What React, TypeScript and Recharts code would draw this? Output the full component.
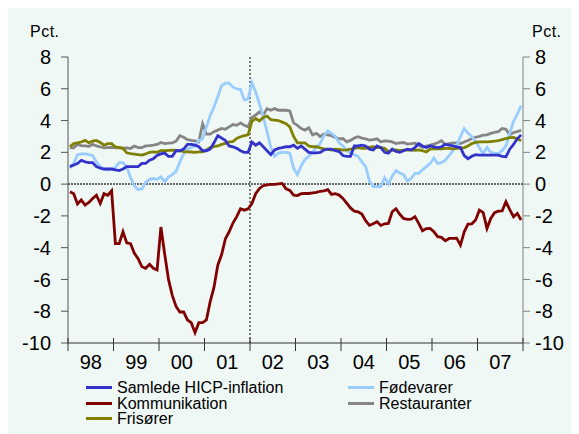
import { LineChart, Line, XAxis, YAxis, ReferenceLine } from "recharts";

// Årlig stigning i pct., månedlige tal jan 1998 - dec 2007
const yearLabels = ["98", "99", "00", "01", "02", "03", "04", "05", "06", "07"];
const yTicks = [-10, -8, -6, -4, -2, 0, 2, 4, 6, 8];

const samlede = [
  1.1, 1.2, 1.3, 1.5, 1.4, 1.35, 1.35, 1.1, 1.0, 0.95, 0.95, 0.95,
  0.9, 0.85, 0.95, 1.1, 1.1, 1.1, 1.1, 1.3, 1.3, 1.5, 1.6, 1.8,
  1.9, 1.95, 1.75, 1.75, 2.1, 2.1, 2.2, 2.5, 2.5, 2.45, 2.35, 2.1,
  2.1, 2.2, 2.6, 3.05, 2.9, 2.75, 2.4, 2.35, 2.25, 2.1, 2.0, 2.0,
  2.65, 2.45, 2.6, 2.35, 2.1, 1.85, 2.15, 2.25, 2.3, 2.35, 2.35, 2.45,
  2.25, 2.4, 2.2, 2.0, 1.97, 1.97, 2.0, 2.15, 2.2, 2.2, 2.1, 2.05,
  1.8, 1.75, 1.75, 2.4, 2.4, 2.45, 2.4, 2.2, 2.15, 2.4, 2.3, 2.0,
  1.95, 2.2, 2.05, 2.0, 2.1, 2.2, 2.15, 2.3, 2.55, 2.4, 2.3, 2.4,
  2.35, 2.3, 2.35, 2.5, 2.45, 2.4, 2.35, 2.3, 1.8, 1.6, 1.75, 1.85,
  1.82, 1.82, 1.82, 1.82, 1.82, 1.82, 1.75, 1.72, 2.2, 2.5, 2.85, 3.1,
];

const fodevarer = [
  1.0, 1.3, 1.85, 1.9, 1.9, 1.85, 1.8, 1.4, 1.1, 0.95, 0.88, 0.95,
  1.05, 1.35, 1.35, 1.1, 0.4, -0.1, -0.35, -0.3, 0.1, 0.3, 0.35, 0.3,
  0.45, 0.15, 0.45, 0.6, 0.8, 1.4, 1.9, 2.2, 2.3, 2.4, 2.75, 2.85,
  3.6, 4.3, 4.85, 5.5, 6.2, 6.35, 6.35, 6.1, 6.0, 5.95, 5.3, 5.35,
  6.4, 5.8, 5.05, 4.2, 3.3, 2.3, 1.75, 1.95, 2.0, 2.0, 1.95, 1.0,
  0.6, 1.15, 1.55, 1.75, 2.0, 2.3, 2.55, 3.05, 3.35, 3.2, 3.0, 2.6,
  2.4, 2.1, 1.95, 1.85, 1.75, 1.4, 1.1, 0.2, -0.15, -0.15, -0.15, 0.4,
  0.0, 0.5, 0.85, 0.7, 0.6, 0.2, 0.35, 0.67, 0.68, 0.9, 1.1, 1.3,
  1.65, 1.3, 1.35, 1.5, 1.8, 2.1, 2.4, 3.0, 3.5, 3.2, 3.0, 2.7,
  2.3, 1.9, 2.3, 2.0, 1.95, 1.93, 2.1, 2.4, 3.2, 3.95, 4.4, 4.95,
];

const kommunikation = [
  -0.48, -0.6, -1.25, -1.0, -1.32, -1.15, -0.9, -0.7, -1.22, -0.6, -0.7, -0.42,
  -3.75, -3.75, -3.0, -3.7, -3.75, -4.35, -4.7, -5.2, -5.3, -5.05, -5.3, -5.4,
  -2.7, -4.4, -6.0, -7.0, -7.7, -8.05, -8.05, -8.55, -8.72, -9.35, -8.72, -8.72,
  -8.55, -7.4, -6.5, -5.1, -4.45, -3.45, -3.0, -2.45, -2.05, -1.55, -1.64, -1.55,
  -1.22, -0.6, -0.27, -0.1, -0.05, -0.02, -0.02, 0.02, 0.04, -0.3, -0.4, -0.69,
  -0.72, -0.6, -0.59, -0.59, -0.55, -0.52, -0.45, -0.42, -0.35, -0.65, -0.6, -0.69,
  -0.9, -1.2, -1.5, -1.7, -1.75, -1.89, -2.3, -2.6, -2.5, -2.37, -2.6, -2.5,
  -2.47, -1.74, -1.55, -1.9, -2.16, -2.22, -2.2, -2.05, -2.47, -2.94, -2.8, -2.79,
  -3.0, -3.31, -3.35, -3.56, -3.42, -3.42, -3.4, -3.84, -3.0, -2.52, -2.5, -2.26,
  -1.64, -1.8, -2.79, -2.16, -1.8, -1.7, -1.68, -1.11, -1.6, -2.05, -1.84, -2.26,
];

const restauranter = [
  2.3, 2.28, 2.5, 2.42, 2.4, 2.38, 2.5, 2.4, 2.35, 2.28, 2.3, 2.32,
  2.28, 2.3, 2.26, 2.28, 2.24, 2.4, 2.3, 2.3, 2.4, 2.42, 2.45, 2.5,
  2.62, 2.55, 2.58, 2.6, 2.7, 3.05, 2.95, 2.8, 2.75, 2.72, 2.66, 3.8,
  3.15, 3.15, 3.3, 3.4, 3.5, 3.45, 3.6, 3.75, 3.7, 3.85, 3.7, 3.6,
  4.2, 4.35, 4.55, 4.35, 4.75, 4.65, 4.75, 4.65, 4.65, 4.65, 4.6, 3.85,
  3.7, 3.5, 3.4, 3.55, 3.1, 3.2, 3.0, 3.15, 3.1, 3.05, 2.94, 2.85,
  2.87, 2.66, 2.75, 2.9, 2.98, 2.9, 2.85, 2.77, 2.8, 2.85, 2.66, 2.72,
  2.7, 2.66, 2.56, 2.6, 2.62, 2.52, 2.55, 2.58, 2.45, 2.31, 2.4, 2.45,
  2.52, 2.6, 2.73, 2.5, 2.55, 2.6, 2.6, 2.56, 2.65, 2.75, 2.87, 2.95,
  3.0, 3.08, 3.1, 3.19, 3.25, 3.3, 3.5, 3.45, 3.1, 3.25, 3.3, 3.4,
];

const frisorer = [
  2.35, 2.55, 2.6, 2.65, 2.75, 2.6, 2.7, 2.75, 2.62, 2.45, 2.55, 2.55,
  2.35, 2.3, 2.25, 1.97, 1.92, 1.89, 1.85, 1.82, 1.9, 2.0, 2.03, 2.0,
  2.1, 2.1, 2.12, 2.14, 2.12, 2.1, 2.05, 2.03, 2.02, 2.0, 2.03, 2.03,
  2.15, 2.3, 2.36, 2.4, 2.5, 2.56, 2.66, 2.68, 2.87, 2.98, 3.05, 3.1,
  3.95, 4.13, 3.98, 4.2, 4.28, 4.05, 4.03, 4.0, 3.9, 3.8, 3.6, 3.0,
  2.6, 2.6, 2.6, 2.4, 2.35, 2.35, 2.28, 2.22, 2.18, 2.14, 2.2, 2.18,
  2.14, 2.16, 2.2, 2.25, 2.29, 2.25, 2.25, 2.33, 2.35, 2.3, 2.3, 2.25,
  2.05, 2.12, 2.15, 2.1, 2.14, 2.15, 2.14, 2.12, 2.15, 2.1, 2.03, 2.2,
  2.22, 2.22, 2.22, 2.25, 2.25, 2.22, 2.25, 2.25, 2.3, 2.4, 2.55, 2.62,
  2.66, 2.66, 2.66, 2.68, 2.7, 2.73, 2.8, 2.87, 2.92, 2.94, 2.85, 2.73,
];

// both y axes share the same [-10, 8] scale; one series sits on the right one
const series = [
  { key: "restauranter", name: "Restauranter", color: "#858585", axis: "r" },
  { key: "fodevarer", name: "Fødevarer", color: "#99ccff", axis: "l" },
  { key: "frisorer", name: "Frisører", color: "#808000", axis: "l" },
  { key: "samlede", name: "Samlede HICP-inflation", color: "#3333cc", axis: "l" },
  { key: "kommunikation", name: "Kommunikation", color: "#800000", axis: "l" },
];

// legend is laid out in two columns like the original
const legendItems = [
  { name: "Samlede HICP-inflation", color: "#3333cc", col: 0, row: 0 },
  { name: "Fødevarer", color: "#99ccff", col: 1, row: 0 },
  { name: "Kommunikation", color: "#800000", col: 0, row: 1 },
  { name: "Restauranter", color: "#858585", col: 1, row: 1 },
  { name: "Frisører", color: "#808000", col: 0, row: 2 },
];

const data = samlede.map((v, i) => ({
  m: i + 0.5,
  samlede: v,
  fodevarer: fodevarer[i],
  kommunikation: kommunikation[i],
  restauranter: restauranter[i],
  frisorer: frisorer[i],
}));

// year boundaries get a tick mark, mid-years get the label
const xTicks: number[] = [];
for (let k = 0; k <= 120; k += 6) xTicks.push(k);

const FONT = "Arial, Helvetica, sans-serif";

function YearTick(props: any) {
  const { x, y, payload } = props;
  const v = payload.value as number;
  if (v % 12 === 0) {
    return <line x1={x} x2={x} y1={y - 5} y2={y + 8} stroke="#333" strokeWidth={1} />;
  }
  return (
    <text x={x} y={y + 19} dy="0.355em" textAnchor="middle" fontSize={20} fill="#000" fontFamily={FONT}>
      {yearLabels[Math.floor(v / 12)]}
    </text>
  );
}

function RightTick(props: any) {
  const { x, y, payload } = props;
  return (
    <text x={x} y={y} dy="0.355em" textAnchor="start" fontSize={20} fill="#000" fontFamily={FONT}>
      {payload.value}
    </text>
  );
}

export default function App() {
  return (
    <div style={{ position: "relative", width: 571, height: 426, background: "#eff8f5", fontFamily: FONT }}>
      <div style={{ position: "absolute", left: 22, top: 15, fontSize: 16, letterSpacing: 0.5 }}>Pct.</div>
      <div style={{ position: "absolute", left: 524, top: 15, fontSize: 16, letterSpacing: 0.5 }}>Pct.</div>
      <LineChart width={571} height={426} data={data} margin={{ top: 49, right: 0, bottom: 61, left: 0 }}>
        <XAxis
          dataKey="m"
          type="number"
          domain={[0, 120]}
          ticks={xTicks}
          interval={0}
          tickSize={0}
          tickMargin={0}
          tickLine={false}
          tick={<YearTick />}
          height={30}
          axisLine={{ stroke: "#333", strokeWidth: 1 }}
        />
        <YAxis
          yAxisId="l"
          domain={[-10, 8]}
          ticks={yTicks}
          interval={0}
          width={60}
          tickSize={7}
          tickMargin={10}
          axisLine={{ stroke: "#555" }}
          tickLine={{ stroke: "#555" }}
          tick={{ fontSize: 20, fill: "#000", fontFamily: FONT }}
        />
        <YAxis
          yAxisId="r"
          orientation="right"
          domain={[-10, 8]}
          ticks={yTicks}
          interval={0}
          width={56}
          tickSize={7}
          tickMargin={5}
          axisLine={{ stroke: "#808080" }}
          tickLine={{ stroke: "#808080" }}
          tick={<RightTick />}
        />
        <ReferenceLine yAxisId="l" y={0} stroke="#666" strokeWidth={2} strokeDasharray="2 1" />
        <ReferenceLine yAxisId="l" x={48} stroke="#000" strokeWidth={1} strokeDasharray="2 2" />
        {series.map((s) => (
          <Line
            key={s.key}
            yAxisId={s.axis}
            dataKey={s.key}
            name={s.name}
            type="linear"
            stroke={s.color}
            strokeWidth={2.8}
            dot={false}
            isAnimationActive={false}
          />
        ))}
      </LineChart>
      {legendItems.map((it) => (
        <div
          key={it.name}
          style={{
            position: "absolute",
            left: it.col === 0 ? 78 : 340,
            top: 372 + it.row * 15.6,
            height: 15,
            lineHeight: "15px",
            display: "flex",
            alignItems: "center",
            fontSize: 16,
            color: "#000",
            whiteSpace: "nowrap",
          }}
        >
          <span style={{ display: "inline-block", width: 26, height: 3, background: it.color, marginRight: 5 }} />
          {it.name}
        </div>
      ))}
    </div>
  );
}
